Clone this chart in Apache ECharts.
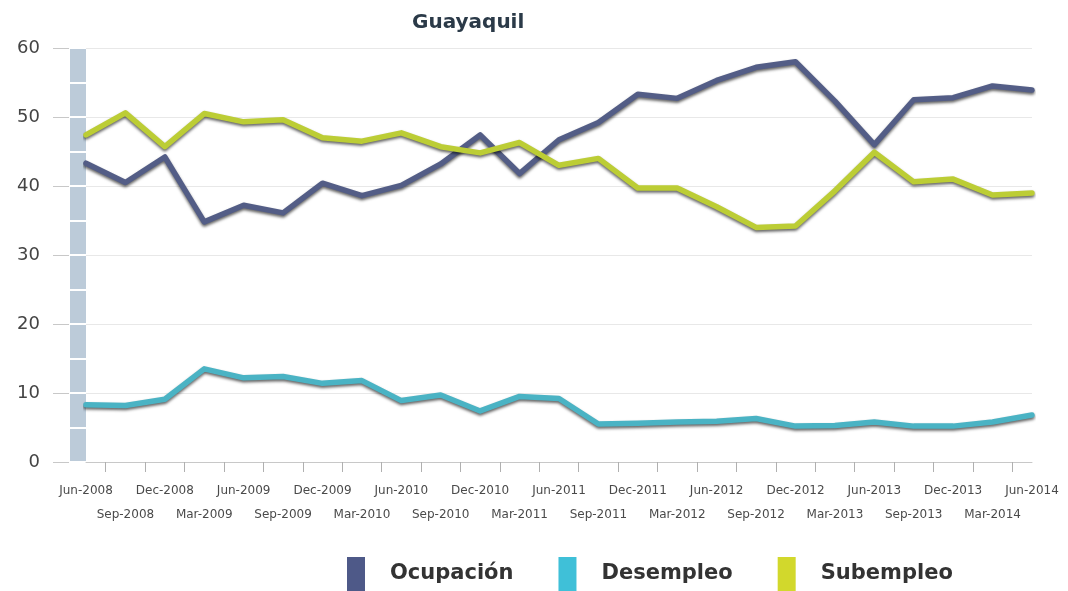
<!DOCTYPE html>
<html>
<head>
<meta charset="utf-8">
<script src="https://cdn.jsdelivr.net/npm/echarts@6/dist/echarts.min.js"></script>
<style>
  html, body { margin: 0; padding: 0; background: #fff; }
  #chart { width: 1068px; height: 591px; }
</style>
</head>
<body>
<div id="chart"></div>
<script>
// Guayaquil — Ocupación / Desempleo / Subempleo, trimestral jun-2008 .. jun-2014

const periods = [
  'Jun-2008', 'Sep-2008', 'Dec-2008', 'Mar-2009', 'Jun-2009', 'Sep-2009', 'Dec-2009',
  'Mar-2010', 'Jun-2010', 'Sep-2010', 'Dec-2010', 'Mar-2011', 'Jun-2011', 'Sep-2011',
  'Dec-2011', 'Mar-2012', 'Jun-2012', 'Sep-2012', 'Dec-2012', 'Mar-2013', 'Jun-2013',
  'Sep-2013', 'Dec-2013', 'Mar-2014', 'Jun-2014',
];
const ocupacion = [43.3, 40.5, 44.2, 34.8, 37.2, 36.1, 40.4, 38.6, 40.1, 43.2, 47.4, 41.8, 46.7,
  49.2, 53.3, 52.7, 55.3, 57.2, 58.0, 52.3, 46.0, 52.5, 52.8, 54.5, 53.9];
const desempleo = [8.3, 8.2, 9.1, 13.5, 12.2, 12.4, 11.4, 11.8, 8.9, 9.7, 7.4, 9.5, 9.2,
  5.5, 5.6, 5.8, 5.9, 6.3, 5.2, 5.3, 5.8, 5.2, 5.2, 5.8, 6.8];
const subempleo = [47.4, 50.6, 45.7, 50.5, 49.3, 49.6, 47.0, 46.5, 47.7, 45.7, 44.8, 46.3, 43.0,
  44.0, 39.7, 39.7, 37.0, 34.0, 34.2, 39.3, 44.9, 40.6, 41.0, 38.7, 39.0];

const FONT = '"DejaVu Sans", Verdana, sans-serif';

// half-step slots so the x ticks fall between the quarters
const tickSlots = [];
for (let i = 0; i < periods.length * 2 - 1; i++) tickSlots.push('');

const lineSeries = (name, data, clr) => ({
  name, type: 'line', data,
  xAxisIndex: 0, yAxisIndex: 0,
  symbol: 'none', smooth: false,
  itemStyle: { color: clr.legend },
  lineStyle: {
    color: clr.line, width: 5.5, cap: 'round', join: 'round',
    shadowColor: 'rgba(0,0,0,0.6)', shadowBlur: 3, shadowOffsetY: 2,
  },
});

const chart = echarts.init(document.getElementById('chart'));
chart.setOption({
  backgroundColor: '#fff', animation: false,
  title: {
    text: 'Guayaquil', left: 407, top: 8,
    textStyle: { fontFamily: FONT, fontSize: 20, fontWeight: 'bold', color: '#2b3a48' },
  },
  legend: {
    data: ['Ocupación', 'Desempleo', 'Subempleo'],
    left: 342, top: 552, icon: 'rect', itemWidth: 18, itemHeight: 34, itemGap: 45,
    textStyle: { fontFamily: FONT, fontSize: 21, fontWeight: 'bold', color: '#333', padding: [0, 0, 0, 20] },
  },
  grid: [
    { left: 86, right: 36, top: 48, bottom: 129 },
    { left: 70, width: 16, top: 48, bottom: 129 },   // the shaded band beside the y axis
  ],
  xAxis: [
    {
      type: 'category', data: periods, boundaryGap: false, gridIndex: 0,
      axisLine: { lineStyle: { color: '#c8c8c8' } },
      axisTick: { show: false },
      axisLabel: {
        interval: 0, margin: 17, fontFamily: FONT, fontSize: 12, color: '#4a4a4a', lineHeight: 24,
        formatter: (v, i) => (i % 2 ? '\n' + v : v),
      },
      splitLine: { show: false },
    },
    {
      type: 'category', data: tickSlots, boundaryGap: false, gridIndex: 0, position: 'bottom',
      axisLine: { show: false }, axisLabel: { show: false },
      axisTick: { interval: i => i % 2 === 1, length: 10, lineStyle: { color: '#b0b0b0' } },
    },
    { type: 'value', gridIndex: 1, show: false, min: 0, max: 1 },
  ],
  yAxis: [
    {
      type: 'value', gridIndex: 0, min: 0, max: 60, interval: 10, offset: 17,
      axisLine: { show: false },
      axisTick: { show: true, length: 16, lineStyle: { color: '#c8c8c8' } },
      axisLabel: { margin: 29, fontFamily: FONT, fontSize: 18, color: '#444' },
      splitLine: { lineStyle: { color: '#e8e8e8' } },
    },
    {
      type: 'value', gridIndex: 1, min: 0, max: 60, interval: 5,
      axisLine: { show: false }, axisTick: { show: false }, axisLabel: { show: false },
      splitLine: { show: true, lineStyle: { color: '#fff', width: 2 } },
      splitArea: { show: true, areaStyle: { color: ['#bccbd9', '#bccbd9'] } },
    },
  ],
  series: [
    lineSeries('Ocupación', ocupacion, { line: '#535d86', legend: '#4e5988' }),
    lineSeries('Desempleo', desempleo, { line: '#4ab3c4', legend: '#3fc0d8' }),
    lineSeries('Subempleo', subempleo, { line: '#bccd35', legend: '#d2d82c' }),
  ],
});
</script>
</body>
</html>
